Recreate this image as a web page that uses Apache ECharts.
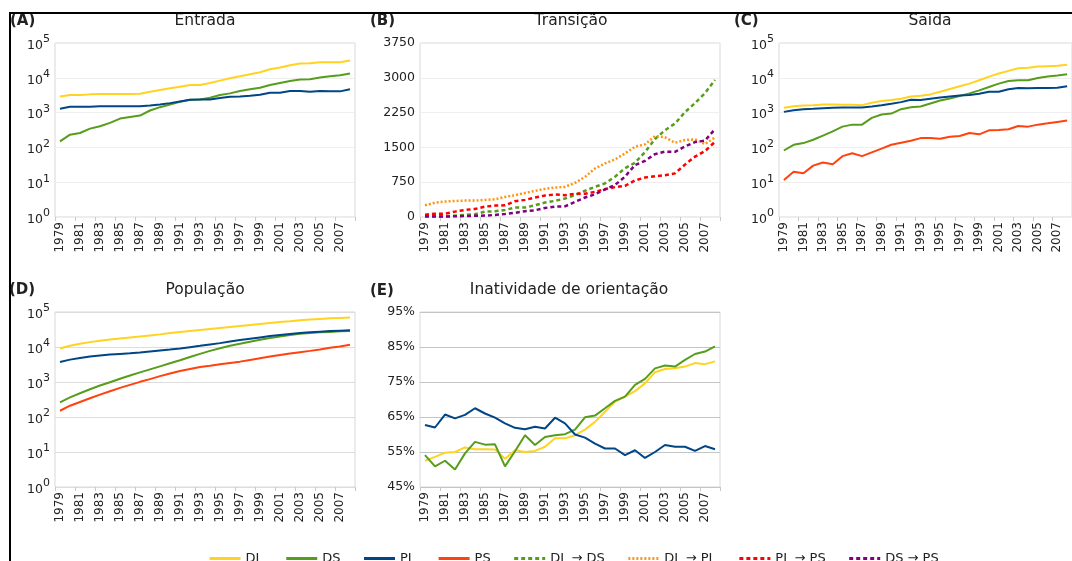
<!DOCTYPE html>
<html><head><meta charset="utf-8">
<script src="https://cdn.jsdelivr.net/npm/echarts@6/dist/echarts.min.js"></script>
<style>html,body{margin:0;padding:0;background:#fff}#c{width:1072px;height:561px}</style>
</head><body><div id="c"></div><script>
const years = ['1979','1980','1981','1982','1983','1984','1985','1986','1987','1988','1989','1990','1991','1992','1993','1994','1995','1996','1997','1998','1999','2000','2001','2002','2003','2004','2005','2006','2007','2008'];
const legendNames = ['DL','DS','PL','PS','DL → DS','DL → PL','PL → PS','DS → PS'];
const logTicks = [1,10,100,1000,10000,100000];
const transTicks = [0,750,1500,2250,3000,3750];
const inatTicks = [45,55,65,75,85,95];

// (A) Entrada
const entradaDL = [2920,3190,3190,3340,3410,3410,3410,3410,3490,3980,4450,4980,5560,6210,6210,7100,8300,9690,11070,12640,14450,17660,19740,23060,25770,26360,28180,28180,28180,31470];
const entradaDS = [149,232,259,346,404,505,673,752,822,1148,1433,1713,2047,2340,2390,2672,3190,3567,4168,4660,5204,6214,7100,8110,8870,9070,10140,11070,11830,13240];
const entradaPL = [1283,1466,1466,1466,1532,1532,1532,1532,1532,1603,1713,1872,2091,2340,2390,2390,2612,2857,2917,3054,3265,3727,3727,4168,4168,3985,4168,4076,4076,4660];
// (B) Transição
const transDLDS = [22,15,10,29,43,58,116,123,152,203,203,253,311,348,398,471,565,652,724,869,1050,1170,1400,1680,1870,2015,2260,2455,2670,2955];
const transDLPL = [252,310,332,346,353,353,368,382,433,469,519,562,606,635,649,735,865,1045,1154,1240,1370,1514,1565,1745,1716,1600,1658,1673,1572,1716];
const transPLPS = [50,72,72,116,152,174,224,246,253,340,369,420,463,485,471,500,500,543,600,644,670,790,850,880,900,940,1130,1300,1420,1620];
const transDSPS = [10,10,10,15,20,25,30,45,65,90,125,145,195,225,230,325,420,490,595,690,870,1120,1210,1355,1410,1405,1520,1615,1645,1895];
// (C) Saída
const saidaDL = [1372,1532,1603,1638,1713,1713,1675,1675,1638,1914,2140,2287,2500,2917,3054,3337,3985,4764,5690,6795,8490,10830,13240,15820,18880,19320,21100,21590,22080,23600];
const saidaDS = [81.5,119,133,166,217,289,395,451,451,703,879,939,1254,1433,1500,1832,2235,2553,2985,3567,4356,5445,6795,8110,8490,8490,9910,10830,11580,12640];
const saidaPL = [1050,1173,1254,1283,1340,1372,1403,1403,1403,1500,1638,1791,2000,2340,2287,2500,2730,2917,3120,3190,3487,3985,3985,4660,5093,4978,5093,5093,5204,5690];
const saidaPS = [11.5,20,18,30,37,33,56,68,56,72,92,119,136,155,185,185,177,203,212,259,237,309,316,331,413,395,451,493,540,589];
// (D) População
const popDL = [9060,10800,12340,13780,15060,16450,17580,18790,20090,21470,22950,25060,26790,28640,30610,32700,34950,37360,39930,42680,45620,48750,52040,54430,58100,60800,63530,66390,67930,69380];
const popDS = [262,365,477,621,792,988,1233,1540,1880,2296,2801,3420,4170,5200,6350,7750,9250,10800,12340,14100,16100,18000,20090,21930,23970,25060,26200,26790,28000,28640];
const popPL = [3730,4360,4870,5320,5690,6080,6360,6640,6940,7420,7930,8470,9060,9890,10800,11800,12900,14410,15740,17200,18790,20540,21930,23450,25060,26200,27400,28640,29260,29900];
const popPS = [151,210,268,342,436,544,679,829,1011,1208,1473,1758,2054,2346,2680,2926,3197,3493,3818,4265,4766,5324,5947,6500,7100,7750,8470,9460,10330,11550];
// (E) Inatividade de orientação (%)
const inatDL = [52.5,53.6,54.8,55.0,56.3,55.8,55.8,55.7,53.1,55.5,55.0,55.3,56.5,58.9,58.9,59.8,61.4,63.6,66.5,69.4,70.8,72.4,74.6,77.8,78.7,78.9,79.4,80.4,80.1,80.9];
const inatDS = [54.1,50.9,52.5,50.0,54.6,57.9,57.1,57.2,50.9,55.2,59.8,57.0,59.3,59.8,60.1,61.4,64.9,65.4,67.5,69.6,70.8,74.2,75.9,78.9,79.7,79.4,81.3,83.0,83.7,85.2];
const inatPL = [62.7,62.0,65.7,64.6,65.6,67.5,66.0,64.8,63.2,61.9,61.5,62.2,61.7,64.8,63.2,60.0,59.1,57.4,56.0,56.0,54.1,55.5,53.3,55.0,57.0,56.5,56.5,55.3,56.7,55.8];

const FONT = 'DejaVu Sans';
const TXT = '#222';
const C = { DL:'#ffd320', DS:'#579d1c', PL:'#004586', PS:'#ff420e', DLDS:'#579d1c', DLPL:'#ff950e', PLPS:'#ff0000', DSPS:'#800080' };

const grids = [
  {left:55, top:43, width:300, height:174},
  {left:420, top:43, width:300, height:174},
  {left:779, top:43, width:300, height:174},
  {left:55, top:312, width:300, height:175},
  {left:420, top:312, width:300, height:175}
].map(g => Object.assign({show:true, borderColor:'#d8d8d8', borderWidth:1, backgroundColor:'#fff'}, g));

function xAx(gi){
  return {type:'category', gridIndex:gi, data:years, boundaryGap:true,
    axisLine:{show:false},
    axisTick:{show:true, length:4, lineStyle:{color:'#c8c8c8'}},
    axisLabel:{rotate:90, interval:1, fontSize:12, color:TXT, margin:5, fontFamily:FONT},
    splitLine:{show:false}};
}
function logY(gi, gridColor){
  return {type:'log', logBase:10, gridIndex:gi, min:logTicks[0], max:logTicks[logTicks.length-1],
    axisLine:{show:false}, axisTick:{show:false},
    splitLine:{show:true, lineStyle:{color:gridColor, width:1}},
    axisLabel:{margin:5, fontFamily:FONT,
      formatter: v => '{b|10}{s|' + Math.round(Math.log10(v)) + '}',
      rich:{ b:{fontSize:12.5, color:TXT, fontFamily:FONT, verticalAlign:'bottom'},
             s:{fontSize:11, color:TXT, fontFamily:FONT, verticalAlign:'bottom', padding:[0,0,7,0]} }}};
}
function linY(gi, ticks, gridColor, fmt){
  return {type:'value', gridIndex:gi, min:ticks[0], max:ticks[ticks.length-1], interval:ticks[1]-ticks[0],
    axisLine:{show:false}, axisTick:{show:false},
    splitLine:{show:true, lineStyle:{color:gridColor, width:1}},
    axisLabel:{margin:5, fontSize:12.5, color:TXT, fontFamily:FONT, formatter:fmt}};
}
function ln(name, gi, data, color, type, width){
  return {name, type:'line', xAxisIndex:gi, yAxisIndex:gi, data, symbol:'none', showSymbol:false,
    lineStyle:{color, width:width||2, type:type||'solid'}, itemStyle:{color}, animation:false};
}
const dash = [4,3], dot = [2,2];

const series = [
  ln('DL',0,entradaDL,C.DL), ln('DS',0,entradaDS,C.DS), ln('PL',0,entradaPL,C.PL),
  ln('DL → DS',1,transDLDS,C.DLDS,dash,2.5), ln('DL → PL',1,transDLPL,C.DLPL,dot,2.5),
  ln('PL → PS',1,transPLPS,C.PLPS,dash,2.5), ln('DS → PS',1,transDSPS,C.DSPS,dash,2.5),
  ln('DL',2,saidaDL,C.DL), ln('DS',2,saidaDS,C.DS), ln('PL',2,saidaPL,C.PL), ln('PS',2,saidaPS,C.PS),
  ln('DL',3,popDL,C.DL), ln('DS',3,popDS,C.DS), ln('PL',3,popPL,C.PL), ln('PS',3,popPS,C.PS),
  ln('DL',4,inatDL,C.DL), ln('DS',4,inatDS,C.DS), ln('PL',4,inatPL,C.PL)
];

function txt(x,y,text,size,bold,align){
  return {type:'text', x, y, z:10, style:{text, fill:TXT, fontSize:size, fontFamily:FONT,
    fontWeight:bold?'bold':'normal', align:align||'center', verticalAlign:'middle'}};
}

const option = {
  backgroundColor:'#fff',
  animation:false,
  textStyle:{fontFamily:FONT},
  grid: grids,
  xAxis: [0,1,2,3,4].map(xAx),
  yAxis: [logY(0,'#eeeeee'), linY(1,transTicks,'#eeeeee', v => String(v)), logY(2,'#eeeeee'), logY(3,'#dddddd'),
          linY(4,inatTicks,'#c4c4c4','{value}%')],
  legend:{data:legendNames, left:208, top:552, padding:0, itemWidth:31, itemHeight:14, itemGap:22,
    textStyle:{fontSize:13, color:TXT, fontFamily:FONT}, lineStyle:{width:3},
    itemStyle:{color:'transparent', borderColor:'transparent', borderWidth:0}},
  series,
  graphic:[
    {type:'line', z:20, shape:{x1:9, y1:13, x2:1072, y2:13}, style:{stroke:'#000', lineWidth:2}},
    {type:'line', z:20, shape:{x1:10, y1:13, x2:10, y2:561}, style:{stroke:'#000', lineWidth:2}},
    txt(10,21,'(A)',15,true,'left'), txt(205,21,'Entrada',15.5),
    txt(370,21,'(B)',15,true,'left'), txt(571,21,'Transição',15.5),
    txt(734,21,'(C)',15,true,'left'), txt(930,21,'Saída',15.5),
    txt(9,290,'(D)',15,true,'left'), txt(205,290,'População',15.5),
    txt(370,291,'(E)',15,true,'left'), txt(569,290,'Inatividade de orientação',15.5)
  ]
};
const chart = echarts.init(document.getElementById('c'));
chart.setOption(option);
</script></body></html>
